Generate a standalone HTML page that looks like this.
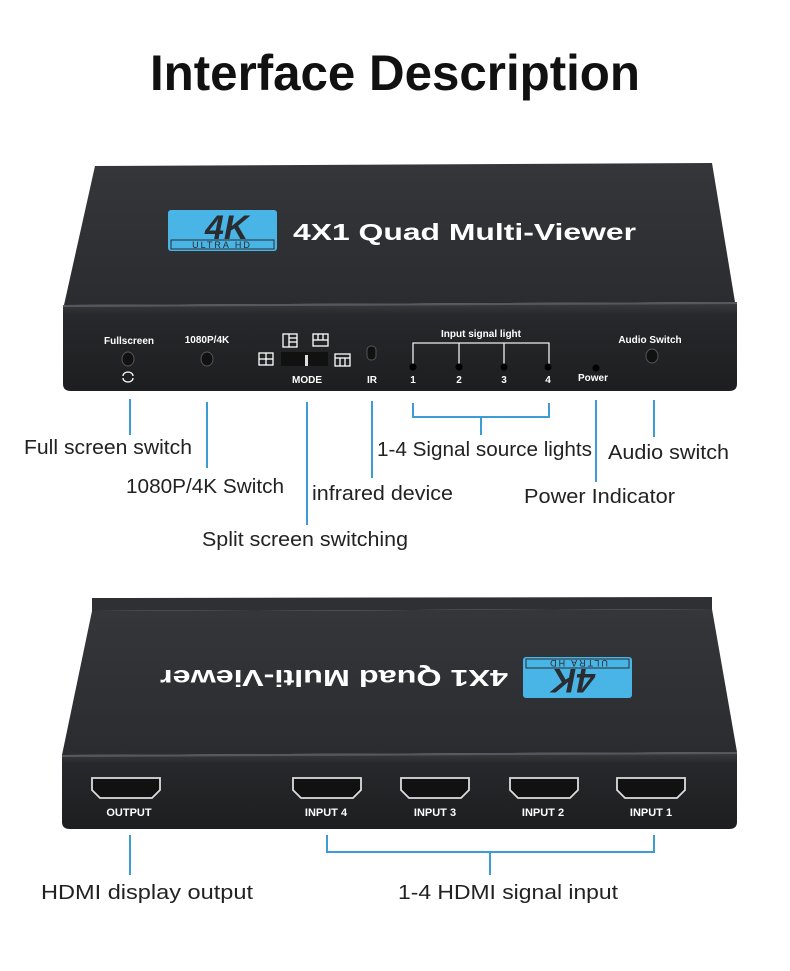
<!DOCTYPE html>
<html><head><meta charset="utf-8"><style>
html,body{margin:0;padding:0;background:#fff;}
svg{display:block;}
</style></head><body>
<svg width="790" height="971" viewBox="0 0 790 971" xmlns="http://www.w3.org/2000/svg" font-family="Liberation Sans, sans-serif">
<defs>
<linearGradient id="top" x1="0" y1="0" x2="0" y2="1"><stop offset="0" stop-color="#34363a"/><stop offset="1" stop-color="#2a2c2f"/></linearGradient>
<linearGradient id="front" x1="0" y1="0" x2="0" y2="1"><stop offset="0" stop-color="#3a3c40"/><stop offset="0.15" stop-color="#26282b"/><stop offset="1" stop-color="#1d1e20"/></linearGradient>
<path id="port" d="M-34,-10 H34 V2 L26,10 H-26 L-34,2 Z"/>
</defs>
<text x="150" y="90" textLength="490" lengthAdjust="spacingAndGlyphs" font-size="50" font-weight="bold" fill="#111">Interface Description</text>

<!-- top device -->
<polygon points="95,166 712,163 735,302 64,305" fill="url(#top)"/>
<path d="M63,305 L737,302 L737,384 Q737,391 729,391 L71,391 Q63,391 63,384 Z" fill="url(#front)"/>
<line x1="63" y1="306" x2="737" y2="303" stroke="#55585c" stroke-width="2"/>
<rect x="168" y="210" width="109" height="41" rx="3" fill="#49b4e6"/>
<text x="205" y="239" font-size="34" font-weight="bold" fill="#2a2c2f" font-style="italic">4K</text>
<rect x="171" y="240" width="103" height="9" fill="none" stroke="#2a2c2f" stroke-width="1"/>
<text x="222" y="248" text-anchor="middle" font-size="9" fill="#2a2c2f" letter-spacing="2">ULTRA HD</text>
<text x="293" y="240" textLength="343" lengthAdjust="spacingAndGlyphs" font-size="23" font-weight="bold" fill="#fff">4X1 Quad Multi-Viewer</text>

<g fill="#fff" font-size="10" font-weight="bold" text-anchor="middle">
<text x="129" y="344">Fullscreen</text>
<text x="207" y="343">1080P/4K</text>
<text x="307" y="383">MODE</text>
<text x="372" y="383">IR</text>
<text x="481" y="337">Input signal light</text>
<text x="413" y="383">1</text><text x="459" y="383">2</text><text x="504" y="383">3</text><text x="548" y="383">4</text>
<text x="593" y="381">Power</text>
<text x="650" y="343">Audio Switch</text>
</g>
<g fill="#111" stroke="#555" stroke-width="1">
<ellipse cx="128" cy="359" rx="6" ry="7"/>
<ellipse cx="207" cy="359" rx="6" ry="7"/>
<ellipse cx="652" cy="356" rx="6" ry="7"/>
<rect x="367" y="346" width="9" height="14" rx="4"/>
</g>
<path d="M123,376 a5,4 0 0 1 10,0 M123,378 a5,4 0 0 0 10,0" stroke="#fff" fill="none" stroke-width="1.3"/>
<rect x="281" y="352" width="47" height="14" fill="#111"/>
<rect x="305" y="355" width="3" height="11" fill="#ddd"/>
<g stroke="#fff" fill="none" stroke-width="1.3">
<rect x="259" y="353" width="14" height="12"/><line x1="266" y1="353" x2="266" y2="365"/><line x1="259" y1="359" x2="273" y2="359"/>
<rect x="283" y="334" width="14" height="13"/><line x1="289" y1="334" x2="289" y2="347"/><line x1="289" y1="338" x2="297" y2="338"/><line x1="289" y1="342" x2="297" y2="342"/>
<rect x="313" y="334" width="15" height="12"/><line x1="313" y1="340" x2="328" y2="340"/><line x1="318" y1="334" x2="318" y2="340"/><line x1="323" y1="334" x2="323" y2="340"/>
<rect x="335" y="354" width="15" height="12"/><line x1="335" y1="358" x2="350" y2="358"/><line x1="340" y1="358" x2="340" y2="366"/><line x1="345" y1="358" x2="345" y2="366"/>
<path d="M413,365 V343 H549 V365 M459,343 V365 M504,343 V365" stroke="#eee"/>
</g>
<g fill="#000"><circle cx="413" cy="367" r="3.5"/><circle cx="459" cy="367" r="3.5"/><circle cx="504" cy="367" r="3.5"/><circle cx="548" cy="367" r="3.5"/><circle cx="596" cy="368" r="3.5"/></g>

<g stroke="#3d9bd6" stroke-width="2" fill="none">
<line x1="130" y1="399" x2="130" y2="435"/>
<line x1="207" y1="402" x2="207" y2="468"/>
<line x1="307" y1="402" x2="307" y2="525"/>
<line x1="372" y1="401" x2="372" y2="478"/>
<path d="M413,403 V417 H549 V403 M481,417 V435"/>
<line x1="596" y1="400" x2="596" y2="482"/>
<line x1="654" y1="400" x2="654" y2="437"/>
<line x1="130" y1="835" x2="130" y2="875"/>
<path d="M327,835 V852 H654 V835 M490,852 V875"/>
</g>
<g font-size="20" fill="#222">
<text x="24" y="454" textLength="168" lengthAdjust="spacingAndGlyphs">Full screen switch</text>
<text x="126" y="493" textLength="158" lengthAdjust="spacingAndGlyphs">1080P/4K Switch</text>
<text x="312" y="500" textLength="141" lengthAdjust="spacingAndGlyphs">infrared device</text>
<text x="202" y="546" textLength="206" lengthAdjust="spacingAndGlyphs">Split screen switching</text>
<text x="377" y="456" textLength="215" lengthAdjust="spacingAndGlyphs">1-4 Signal source lights</text>
<text x="608" y="459" textLength="121" lengthAdjust="spacingAndGlyphs">Audio switch</text>
<text x="524" y="503" textLength="151" lengthAdjust="spacingAndGlyphs">Power Indicator</text>
<text x="41" y="899" textLength="212" lengthAdjust="spacingAndGlyphs">HDMI display output</text>
<text x="398" y="899" textLength="220" lengthAdjust="spacingAndGlyphs">1-4 HDMI signal input</text>
</g>

<!-- bottom device -->
<polygon points="92,598 712,597 712,609 92,611" fill="#2e3033"/>
<polygon points="92,611 712,609 737,752 62,755" fill="url(#top)"/>
<path d="M62,755 L737,752 L737,822 Q737,829 729,829 L70,829 Q62,829 62,822 Z" fill="url(#front)"/>
<line x1="62" y1="756" x2="737" y2="753" stroke="#55585c" stroke-width="2"/>
<g transform="rotate(180 577 678)">
<rect x="522" y="658" width="109" height="41" rx="3" fill="#49b4e6"/>
<text x="559" y="687" font-size="34" font-weight="bold" fill="#2a2c2f" font-style="italic">4K</text>
<rect x="525" y="688" width="103" height="9" fill="none" stroke="#2a2c2f"/>
<text x="576" y="696" text-anchor="middle" font-size="9" fill="#2a2c2f" letter-spacing="2">ULTRA HD</text>
</g>
<text x="0" y="0" transform="translate(508,670) rotate(180)" textLength="348" lengthAdjust="spacingAndGlyphs" font-size="23" font-weight="bold" fill="#fff">4X1 Quad Multi-Viewer</text>
<g fill="#111" stroke="#ddd" stroke-width="1.8">
<use href="#port" x="126" y="788"/>
<use href="#port" x="327" y="788"/>
<use href="#port" x="435" y="788"/>
<use href="#port" x="544" y="788"/>
<use href="#port" x="651" y="788"/>
</g>
<g fill="#fff" font-size="11" font-weight="bold" text-anchor="middle">
<text x="129" y="816">OUTPUT</text>
<text x="326" y="816">INPUT 4</text>
<text x="435" y="816">INPUT 3</text>
<text x="543" y="816">INPUT 2</text>
<text x="651" y="816">INPUT 1</text>
</g>
</svg>
</body></html>
